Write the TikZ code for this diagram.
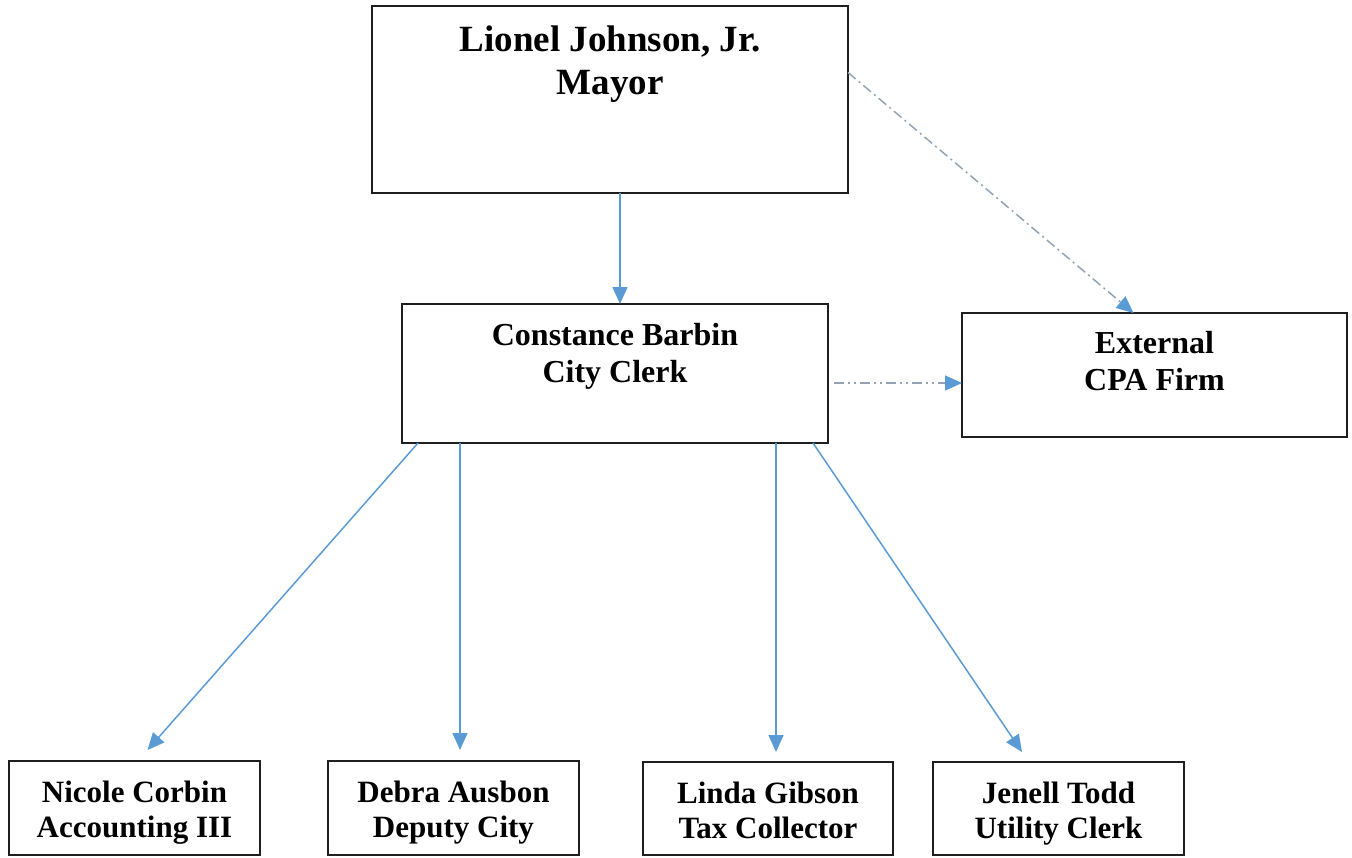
\documentclass[tikz,border=0pt]{standalone}
\usepackage{fontspec}
\setmainfont{Liberation Serif}
\usetikzlibrary{calc,arrows.meta}
\definecolor{linkblue}{HTML}{5B9BD5}
\definecolor{linkgrey}{HTML}{93A3B3}
\newcommand{\boxtext}[4]{\parbox[c][#2][t]{#1}{\centering\vspace*{#3}#4}}

\begin{document}
\begin{tikzpicture}[x=0.5pt,y=-0.5pt,
  unit/.style={draw=black!88, line width=1.25pt, inner sep=0pt, outer sep=0pt, fill=white},
  topfont/.style={font=\fontsize{18.5}{21.5}\selectfont\bfseries},
  midfont/.style={font=\fontsize{16}{18.5}\selectfont\bfseries},
  lowfont/.style={font=\fontsize{15.5}{17.5}\selectfont\bfseries},
  report/.style={draw=linkblue, line width=0.75pt, -{Triangle[length=8.5pt,width=7.5pt]}},
  advise/.style={draw=linkgrey, line width=0.75pt, -{Triangle[length=8.5pt,width=7.5pt,color=linkblue]}}]

\useasboundingbox (0,0) rectangle (1352,857);

\node[unit,topfont] (mayor) at (610,99.5) {\boxtext{238pt}{93.5pt}{10pt}{Lionel Johnson, Jr.\\Mayor}};
\node[unit,midfont] (clerk) at (615,373.5) {\boxtext{213pt}{69.5pt}{9.5pt}{Constance Barbin\\City Clerk}};
\node[unit,midfont] (cpa) at (1154.5,375) {\boxtext{192.5pt}{62pt}{9pt}{External\\CPA Firm}};
\node[unit,lowfont] (nicole) at (134.5,808) {\boxtext{125.5pt}{47pt}{9.9pt}{Nicole Corbin\\Accounting III}};
\node[unit,lowfont] (debra) at (453.5,808) {\boxtext{125.5pt}{47pt}{9.9pt}{Debra Ausbon\\Deputy City}};
\node[unit,lowfont] (linda) at (768,808.5) {\boxtext{125pt}{46.5pt}{9.9pt}{Linda Gibson\\Tax Collector}};
\node[unit,lowfont] (jenell) at (1058.5,808.5) {\boxtext{125.5pt}{46.5pt}{9.9pt}{Jenell Todd\\Utility Clerk}};

\draw[report] ($(mayor.south)+(10,0)$) -- ($(clerk.north)+(5,0)$);
\draw[advise, dash pattern=on 5pt off 2pt on 1pt off 2pt] ($(mayor.east)+(0,-27)$) -- ($(cpa.north)+(-21,0)$);
\draw[advise, dash pattern=on 5pt off 2pt on 1pt off 2pt on 1pt off 2pt] ($(clerk.east)+(6,9.5)$) -- ($(cpa.west)+(0,8)$);
\draw[report] ($(clerk.south west)+(16,0)$) -- ($(nicole.north)+(13,-11)$);
\draw[report] ($(clerk.south west)+(58,0)$) -- ($(debra.north)+(6.5,-11)$);
\draw[report] ($(clerk.south west)+(374,0)$) -- ($(linda.north)+(8,-10)$);
\draw[report] ($(clerk.south west)+(411,0)$) -- ($(jenell.north)+(-36.5,-10)$);

\end{tikzpicture}
\end{document}
